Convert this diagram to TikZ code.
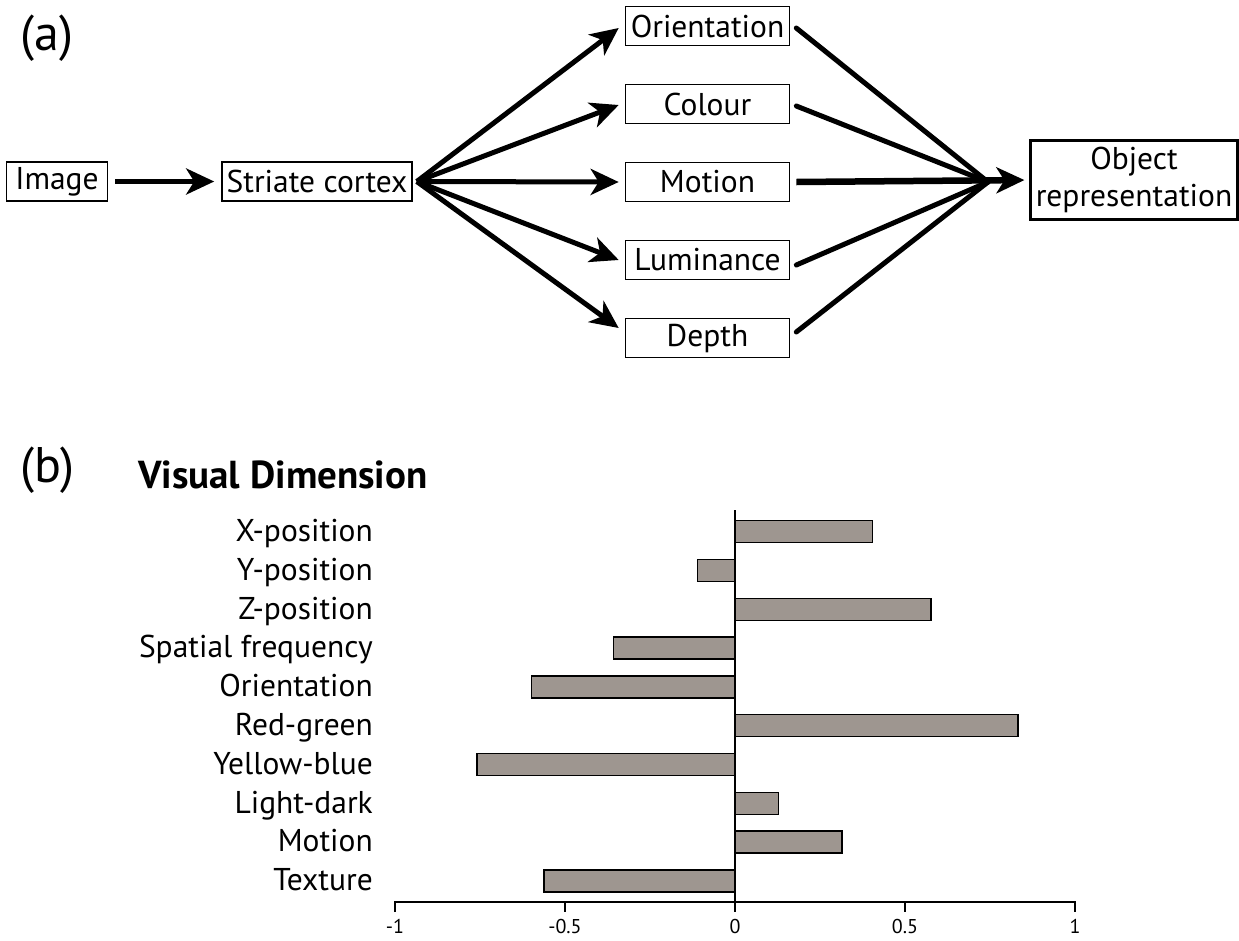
\documentclass[tikz,border=0pt]{standalone}
\usepackage{fontspec}
\setmainfont{PT Sans}
\usetikzlibrary{arrows.meta,positioning}
\definecolor{barfill}{HTML}{9E9690}
\tikzset{
	box/.style={draw, line width=1.6pt, inner sep=0pt, minimum height=39pt, font=\fontsize{31.5}{37}\selectfont},
	arr/.style={line width=5pt, -{Stealth[length=28pt,width=26pt,inset=8pt]}},
	feed/.style={line width=5pt, line cap=round},
	bar/.style={draw, line width=1.5pt, fill=barfill},
	dimlabel/.style={anchor=base east, inner sep=0pt, font=\fontsize{31.5}{34}\selectfont},
	ticklabel/.style={anchor=base, inner sep=0pt, font=\fontsize{20}{22}\selectfont},
	panel/.style={anchor=base west, inner sep=0pt, font=\fontsize{50}{54}\selectfont},
}
\begin{document}
\begin{tikzpicture}[x=1pt, y=-1pt]
	\useasboundingbox (0,0) rectangle (1239,940);
	\node[panel] (pa) at (20,50) {(a)};
	\node[panel] (pb) at (20,482) {(b)};
	\node[box, minimum width=101pt] (img) at (57,181.5) {Image};
	\node[box, minimum width=190pt] (stri) at (317,181.5) {Striate cortex};
	\foreach \n/\t/\y in {ori/Orientation/26, col/Colour/104, mot/Motion/182, lum/Luminance/260, dep/Depth/338}{
		\node[box, minimum width=164pt] (\n) at (707.5,\y) {\t};
	}
	\node[box, minimum width=207pt, minimum height=79pt, align=center, line width=2.2pt] (obj) at (1134,180) {Object\\representation};
	\coordinate (fan) at ([xshift=4pt]stri.east);
	\coordinate (conv) at (988,182);
	\draw[arr, shorten <=7pt, shorten >=7pt] (img.east) -- (stri.west);
	\foreach \n/\d in {ori/-2, col/-1, mot/0, lum/0, dep/10}{
		\draw[arr] (fan) -- ([xshift=-6pt, yshift=\d pt]\n.west);
	}
	\foreach \n/\d in {ori/-2, col/-2, lum/-5, dep/6}{
		\draw[feed] ([xshift=6pt, yshift=\d pt]\n.east) -- (conv);
	}
	\draw[arr, line width=6.5pt, shorten >=5pt] ([xshift=6pt]mot.east) -- (obj.west);
	\node[anchor=base west, inner sep=0pt, font=\fontsize{39}{42}\selectfont\bfseries] (title) at (138,488) {Visual Dimension};
	\draw[line width=1.5pt] (735,510) -- (735,902);
	\foreach \i/\v/\t in {0/0.405/X-position, 1/-0.110/Y-position, 2/0.577/Z-position, 3/-0.357/Spatial frequency, 4/-0.598/Orientation, 5/0.833/Red-green, 6/-0.759/Yellow-blue, 7/0.128/Light-dark, 8/0.315/Motion, 9/-0.562/Texture}{
		\draw[bar] (735,520.7+38.8*\i) rectangle (735+340*\v,542.7+38.8*\i);
		\node[dimlabel] (lab\i) at (373,541.5+38.8*\i) {\t};
	}
	\draw[line width=1.5pt] (395,912) -- (395,902) -- (1075,902) -- (1075,912);
	\foreach \x/\t in {395/-1, 565/-0.5, 735/0, 905/0.5, 1075/1}{
		\draw[line width=1.5pt] (\x,902) -- (\x,912);
		\node[ticklabel] (tick\x) at (\x,933) {\t};
	}
\end{tikzpicture}
\end{document}
